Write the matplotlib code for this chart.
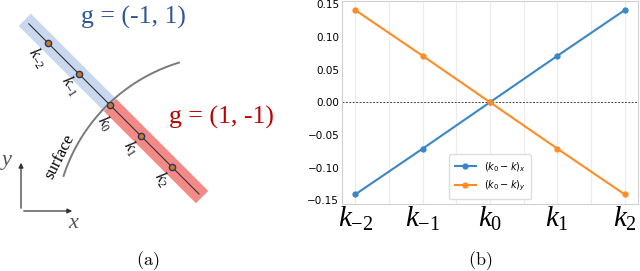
import numpy as np
import matplotlib
matplotlib.use("Agg")
import matplotlib.pyplot as plt
from matplotlib.ticker import MultipleLocator

plt.rcParams['mathtext.rm'] = 'Liberation Serif'
plt.rcParams['mathtext.it'] = 'Liberation Serif:italic'

# panel (b) data
k_labels = [r'$k_{\mathit{-2}}$', r'$k_{\mathit{-1}}$', r'$k_{\mathit{0}}$',
            r'$k_{\mathit{1}}$', r'$k_{\mathit{2}}$']
diff_x = [-0.141, -0.071, 0.0, 0.071, 0.141]
diff_y = [0.141, 0.071, 0.0, -0.071, -0.141]
series_names = [r'$(k_0 - k)_x$', r'$(k_0 - k)_y$']

# panel (a) diagram: sample indices along the gradient line (pixel space)
k_index = [-2, -1, 0, 1, 2]
k0_pos = (110, 105)
k_step = (31, 31)

fig = plt.figure(figsize=(6.4, 2.71), dpi=100)

# ---------------- panel (a) ----------------
ax = fig.add_axes([0, 0, 0.5, 1])
ax.set_xlim(0, 320)
ax.set_ylim(271, 0)
ax.axis('off')

def along(t):
    t = np.asarray(t, dtype=float)
    return k0_pos[0] + t * k_step[0], k0_pos[1] + t * k_step[1]

# bands
bx, by = along([-2.75, 0])
ax.plot(bx, by, color='#cad8ef', lw=12.5, solid_capstyle='butt', zorder=1)
rx, ry = along([0, 2.97])
ax.plot(rx, ry, color='#f48a87', lw=12.5, solid_capstyle='butt', zorder=1)

# surface arc
th = np.radians(np.linspace(-162, -107, 60))
ax.plot(230 + 175 * np.cos(th), 230 + 175 * np.sin(th), color='#7a7a7a', lw=1.4, zorder=2)

# centre line and samples
lx, ly = along([-2.62, 2.87])
ax.plot(lx, ly, color='#333333', lw=0.8, zorder=3)
px, py = along(k_index)
ax.plot(px, py, 'o', ms=4.5, mfc='#d8731e', mec='#1f3a66', mew=1.0, zorder=4)

offsets = [(-11, 15), (-9, 12), (-5, 18), (-10, 12), (-10, 12)]
for x, y, name, (dx, dy) in zip(px, py, k_labels, offsets):
    ax.text(x + dx, y + dy, name, fontsize=12, rotation=-58, ha='center', va='center',
            math_fontfamily='custom', color='#111111')

ax.text(133, 17, 'g = (-1, 1)', fontsize=18.5, family='Liberation Serif',
        color='#2f5597', ha='center', va='center')
ax.text(221, 117, 'g = (1, -1)', fontsize=18.5, family='Liberation Serif',
        color='#c00000', ha='center', va='center')
ax.text(60, 157, 'surface', fontsize=12, family='Liberation Serif', rotation=63,
        ha='center', va='center')

# coordinate axes
ax.annotate('', xy=(21, 160), xytext=(21, 211),
            arrowprops=dict(arrowstyle='-|>', color='#333333', lw=0.9, mutation_scale=7))
ax.annotate('', xy=(75, 211), xytext=(21, 211),
            arrowprops=dict(arrowstyle='-|>', color='#333333', lw=0.9, mutation_scale=7))
ax.text(7, 160, 'y', fontsize=16, family='Liberation Serif', style='italic',
        color='#555555', ha='center', va='center')
ax.text(73, 224, 'x', fontsize=16, family='Liberation Serif', style='italic',
        color='#555555', ha='center', va='center')

ax.text(148, 261, r'$\mathrm{(a)}$', fontsize=13, math_fontfamily='cm', ha='center', va='center')

# ---------------- panel (b) ----------------
bx_ax = fig.add_axes([342 / 640, 1 - 203.5 / 271, (638 - 342) / 640, 202.5 / 271])
pos = np.arange(len(k_labels))
bx_ax.plot(pos, diff_x, '-o', color='#3a86c6', lw=1.5, ms=3.5, label=series_names[0], zorder=3)
bx_ax.plot(pos, diff_y, '-o', color='#ff8c26', lw=1.5, ms=3.5, label=series_names[1], zorder=3)
bx_ax.axhline(0, color='#444444', lw=0.7, ls=(0, (2, 1.5)), zorder=2)

bx_ax.set_xticks(pos)
bx_ax.set_xticklabels(k_labels, fontsize=21, math_fontfamily='custom')
bx_ax.xaxis.set_minor_locator(MultipleLocator(0.5))
bx_ax.set_yticks([-0.15, -0.10, -0.05, 0.0, 0.05, 0.10, 0.15])
bx_ax.tick_params(axis='y', labelsize=7.5, length=0, pad=2)
bx_ax.tick_params(axis='x', which='both', length=0, pad=1)
bx_ax.grid(True, axis='x', which='both', color='#ececec', lw=0.8)
bx_ax.set_axisbelow(True)
for s in bx_ax.spines.values():
    s.set_color('#d0d0d0')
    s.set_linewidth(0.8)

leg = bx_ax.legend(loc='lower center', fontsize=7, framealpha=1, edgecolor='#dddddd',
                   handlelength=2.2, borderpad=0.6)

fig.text(480 / 640, 1 - 261 / 271, r'$\mathrm{(b)}$', fontsize=13, math_fontfamily='cm',
         ha='center', va='center')

fig.savefig('out.png', dpi=100)
